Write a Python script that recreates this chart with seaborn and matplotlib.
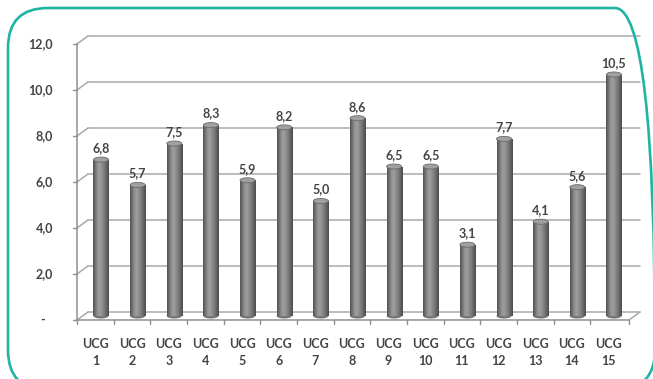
import numpy as np
import matplotlib
matplotlib.use("Agg")
import matplotlib.pyplot as plt
from matplotlib.colors import LinearSegmentedColormap
from matplotlib.patches import Ellipse, FancyBboxPatch
from matplotlib.transforms import IdentityTransform
import seaborn as sns

# ---- data -------------------------------------------------------------
categories = [f"UCG {i}" for i in range(1, 16)]
cat_numbers = [str(i) for i in range(1, 16)]
values = [6.8, 5.7, 7.5, 8.3, 5.9, 8.2, 5.0, 8.6, 6.5, 6.5, 3.1, 7.7, 4.1, 5.6, 10.5]
y_ticks = [0, 2, 4, 6, 8, 10, 12]
y_tick_labels = ["-", "2,0", "4,0", "6,0", "8,0", "10,0", "12,0"]

# ---- figure ----------------------------------------------------------
W, H, DPI = 653, 379, 100
sns.set_theme(style="white")
plt.rcParams["font.family"] = ["Lato", "DejaVu Sans"]

fig = plt.figure(figsize=(W / DPI, H / DPI), dpi=DPI)
fig.patch.set_facecolor("white")
ax = fig.add_axes([0, 0, 1, 1])

# pixel geometry of the category / value scales
PX_X0, PX_STEP = 101.0, 36.64      # centre of first bar, spacing
PX_Y0, PX_UNIT = 316.0, 23.0       # baseline of bars, pixels per unit

BAR_W = 0.41
sns.barplot(x=categories, y=values, color="#7a7a7a", width=BAR_W,
            saturation=1, ax=ax, zorder=3)

ax.set_xlim((0 - PX_X0) / PX_STEP, (W - PX_X0) / PX_STEP)
ax.set_ylim((PX_Y0 - H) / PX_UNIT, PX_Y0 / PX_UNIT)
ax.axis("off")

# depth offsets of the pseudo-3D box (half depth in data units)
hdx, hdy = 0.15, 0.174
x_left = (77 - PX_X0) / PX_STEP          # front y-axis
x_right = (629 - PX_X0) / PX_STEP        # front right end of floor
grid_c = "#a9a9a9"
axis_c = "#8f8f8f"

# back wall gridlines and side-wall diagonals
for t in y_ticks:
    ax.plot([x_left + 2 * hdx, x_right + 2 * hdx], [t + hdy, t + hdy],
            color=grid_c, lw=1.1, zorder=1)
    ax.plot([x_left, x_left + 2 * hdx], [t - hdy, t + hdy],
            color=grid_c, lw=1.1, zorder=1)
    ax.plot([x_left - 0.1, x_left], [t - hdy, t - hdy],
            color=axis_c, lw=1.0, zorder=1)

# front vertical axis
ax.plot([x_left, x_left], [-hdy, 12 - hdy], color=axis_c, lw=1.1, zorder=1)
# floor front edge and right diagonal
ax.plot([x_left, x_right], [-hdy, -hdy], color=axis_c, lw=1.1, zorder=4)
ax.plot([x_right, x_right + 2 * hdx], [-hdy, hdy], color=grid_c, lw=1.1, zorder=1)
# category separators on the floor edge
for b in np.arange(-0.5, len(values), 1.0):
    xb = b - hdx if b > -0.5 else x_left
    if b == len(values) - 0.5:
        xb = x_right
    ax.plot([xb, xb], [-hdy, -hdy - 0.17], color=axis_c, lw=1.0, zorder=4)

# cylinder shading on each bar
shade = LinearSegmentedColormap.from_list(
    "cyl", [(0.0, "#525252"), (0.3, "#969696"), (0.45, "#9c9c9c"),
            (0.75, "#767676"), (1.0, "#4c4c4c")])
grad = np.linspace(0, 1, 64).reshape(1, -1)
cap_h = 0.22
for patch, v in zip(ax.patches, values):
    x0, w = patch.get_x(), patch.get_width()
    h = patch.get_height()
    patch.set_edgecolor("none")
    im = ax.imshow(grad, cmap=shade, extent=(x0, x0 + w, 0, h),
                   aspect="auto", zorder=3.5, interpolation="bilinear")
    im.set_clip_path(patch)
    ax.add_patch(Ellipse((x0 + w / 2, 0), w, cap_h, facecolor="#767676",
                         edgecolor="none", zorder=3.2))
    ax.add_patch(Ellipse((x0 + w / 2, h), w, cap_h, facecolor="#a0a0a0",
                         edgecolor="#6a6a6a", lw=0.6, zorder=3.8))

ax.set_xlim((0 - PX_X0) / PX_STEP, (W - PX_X0) / PX_STEP)
ax.set_ylim((PX_Y0 - H) / PX_UNIT, PX_Y0 / PX_UNIT)

txt_c = "#444444"
FS = 9
# value labels
for i, v in enumerate(values):
    ax.text(i, v + 0.33, f"{v:.1f}".replace(".", ","), ha="center",
            va="baseline", fontsize=FS, fontweight="bold", color=txt_c, zorder=5)

# category labels (two lines)
for i, (c, n) in enumerate(zip(categories, cat_numbers)):
    xc = i - hdx
    ax.text(xc, (PX_Y0 - 344) / PX_UNIT, c.split()[0], ha="center", va="center",
            fontsize=FS, fontweight="bold", color=txt_c)
    ax.text(xc, (PX_Y0 - 361) / PX_UNIT, n, ha="center", va="center",
            fontsize=FS, fontweight="bold", color=txt_c)

# value axis labels
x_lab = (53 - PX_X0) / PX_STEP
for t, lab in zip(y_ticks, y_tick_labels):
    ax.text(x_lab if lab != "-" else (45 - PX_X0) / PX_STEP, t - hdy, lab,
            ha="right", va="center", fontsize=FS, fontweight="bold", color=txt_c)

# rounded frame around the chart
frame = FancyBboxPatch((8 + 40, H - 390 + 40), 655 - 8 - 80, 390 - 8 - 80,
                       boxstyle="round,pad=40", transform=IdentityTransform(),
                       facecolor="none", edgecolor="#20b4a2", lw=1.9,
                       clip_on=False, zorder=6)
ax.add_patch(frame)

fig.savefig("out.png", dpi=DPI, facecolor="white")
